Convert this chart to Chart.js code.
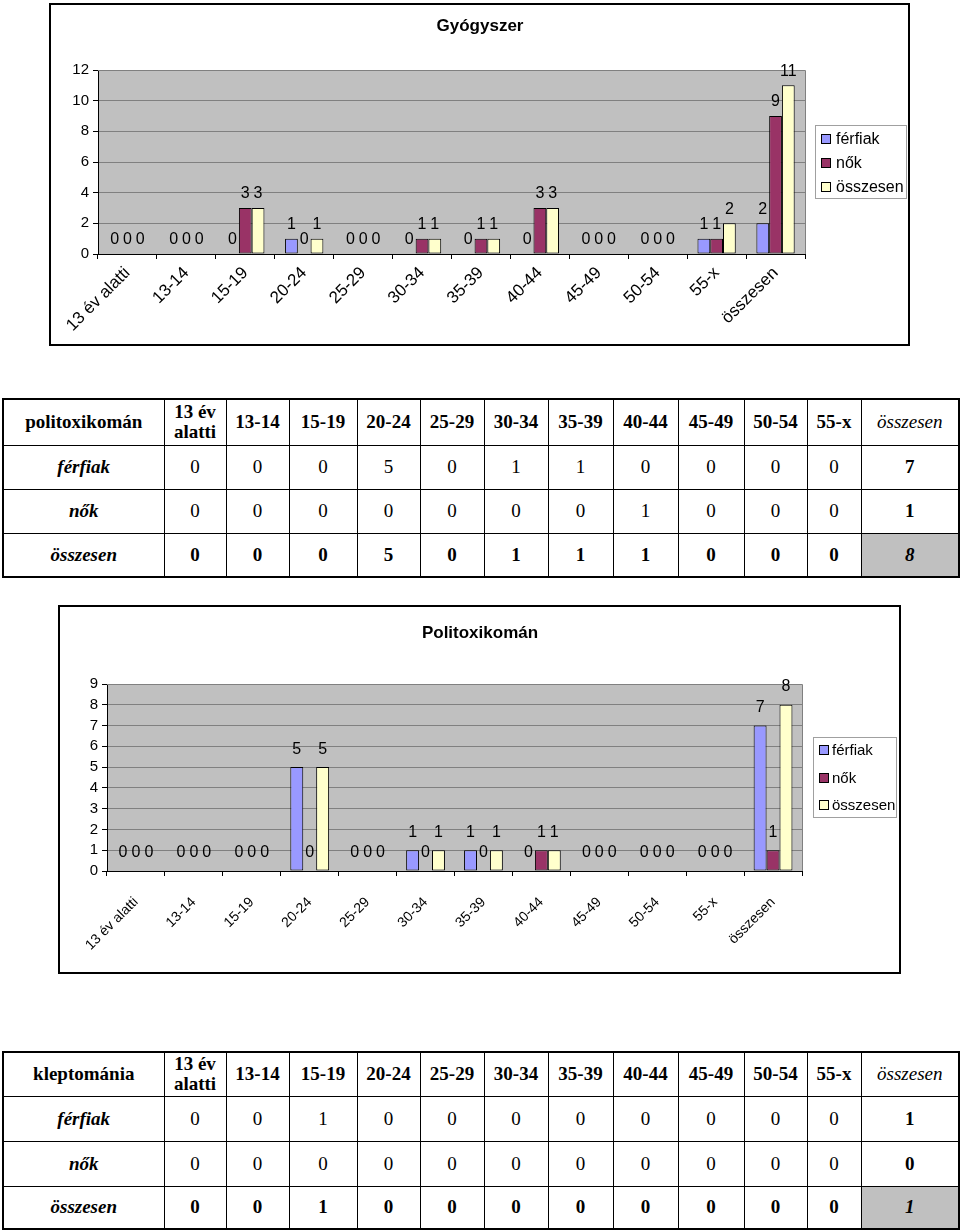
<!DOCTYPE html>
<html lang="hu">
<head>
<meta charset="utf-8">
<title>Gyógyszer / Politoxikomán / kleptománia</title>
<script src="https://cdn.jsdelivr.net/npm/chart.js@4.4.1/dist/chart.umd.min.js"></script>
<style>
  html, body { margin: 0; padding: 0; background: #fff; }
  body { position: relative; width: 960px; height: 1231px; overflow: hidden; }
  .frame { position: absolute; box-sizing: border-box; border: 2px solid #000; background: #fff; }
  .frame canvas { display: block; }
  table.data {
    position: absolute; border-collapse: collapse; table-layout: fixed;
    font-family: "Liberation Serif", "Times New Roman", serif; font-size: 19px; color: #000;
    border: 2px solid #000;
  }
  table.data td { border: 1px solid #000; text-align: center; vertical-align: middle; padding: 0; }
  table.data tr.head td { font-weight: bold; line-height: 20px; }
  table.data tr.head td.tot { font-weight: normal; font-style: italic; }
  table.data td.rl { font-weight: bold; font-style: italic; }
  table.data tr.sum td { font-weight: bold; }
  table.data td.tcol { font-weight: bold; }
  table.data td.grand { background: #c0c0c0; font-style: italic; font-weight: bold; }
</style>
</head>
<body>
<div class="frame" id="f1" style="left:49px;top:3px;width:861px;height:343px;"><canvas id="c1" width="857" height="339"></canvas></div>
<table class="data" id="t1" style="left:2px;top:398px;width:956px;"></table>
<div class="frame" id="f2" style="left:58px;top:605px;width:843px;height:369px;"><canvas id="c2" width="839" height="365"></canvas></div>
<table class="data" id="t2" style="left:2px;top:1051px;width:956px;"></table>
<script>
// ---------- data ----------
const categories = ['13 év alatti','13-14','15-19','20-24','25-29','30-34','35-39','40-44','45-49','50-54','55-x','összesen'];
const tableHeaders = ['13 év<br>alatti','13-14','15-19','20-24','25-29','30-34','35-39','40-44','45-49','50-54','55-x','összesen'];
const seriesNames = ['férfiak','nők','összesen'];
const seriesColors = ['#9999FF','#993366','#FFFFCC'];

const gyogyszerFerfiak   = [0,0,0,1,0,0,0,0,0,0,1,2];
const gyogyszerNok       = [0,0,3,0,0,1,1,3,0,0,1,9];
const gyogyszerOsszesen  = [0,0,3,1,0,1,1,3,0,0,2,11];

const politoxFerfiak     = [0,0,0,5,0,1,1,0,0,0,0,7];
const politoxNok         = [0,0,0,0,0,0,0,1,0,0,0,1];
const politoxOsszesen    = [0,0,0,5,0,1,1,1,0,0,0,8];

const kleptoFerfiak      = [0,0,1,0,0,0,0,0,0,0,0,1];
const kleptoNok          = [0,0,0,0,0,0,0,0,0,0,0,0];
const kleptoOsszesen     = [0,0,1,0,0,0,0,0,0,0,0,1];

const yTicks1 = {max: 12, step: 2};
const yTicks2 = {max: 9, step: 1};

// ---------- tables ----------
const colWidths = [161,62,63,68,63,64,64,65,65,66,63,54,98];
function buildTable(id, title, rows, heights) {
  const t = document.getElementById(id);
  let h = '<colgroup>' + colWidths.map(w => '<col style="width:' + w + 'px">').join('') + '</colgroup>';
  h += '<tr class="head" style="height:' + heights[0] + 'px"><td>' + title + '</td>';
  tableHeaders.forEach((c, i) => { h += '<td' + (i === tableHeaders.length - 1 ? ' class="tot"' : '') + '>' + c + '</td>'; });
  h += '</tr>';
  rows.forEach((r, ri) => {
    h += '<tr' + (ri === 2 ? ' class="sum"' : '') + ' style="height:' + heights[ri + 1] + 'px"><td class="rl">' + seriesNames[ri] + '</td>';
    r.forEach((v, i) => {
      const last = i === r.length - 1;
      let cls = '';
      if (last) cls = ri === 2 ? 'grand' : 'tcol';
      h += '<td' + (cls ? ' class="' + cls + '"' : '') + '>' + v + '</td>';
    });
    h += '</tr>';
  });
  t.innerHTML = h;
}
buildTable('t1', 'politoxikomán', [politoxFerfiak, politoxNok, politoxOsszesen], [46,44,44,44]);
buildTable('t2', 'kleptománia', [kleptoFerfiak, kleptoNok, kleptoOsszesen], [44,45,45,43]);

// ---------- charts ----------
Chart.defaults.font.family = '"Liberation Sans", Arial, sans-serif';
Chart.defaults.color = '#000';

const excelLook = {
  id: 'excelLook',
  beforeDraw(chart, args, o) {
    const {ctx, chartArea: a} = chart;
    ctx.save();
    ctx.fillStyle = '#C0C0C0';
    ctx.fillRect(a.left, a.top, a.right - a.left, a.bottom - a.top);
    ctx.restore();
  },
  beforeDatasetsDraw(chart) {
    const {ctx, chartArea: a} = chart;
    ctx.save();
    ctx.strokeStyle = '#808080';
    ctx.lineWidth = 1;
    ctx.beginPath();
    ctx.moveTo(a.left, Math.round(a.top) + 0.5);
    ctx.lineTo(Math.round(a.right) + 0.5, Math.round(a.top) + 0.5);
    ctx.lineTo(Math.round(a.right) + 0.5, a.bottom);
    ctx.stroke();
    ctx.restore();
  },
  afterDatasetsDraw(chart, args, o) {
    const {ctx} = chart;
    ctx.save();
    ctx.font = o.labelFont;
    ctx.fillStyle = '#000';
    ctx.textAlign = 'center';
    ctx.textBaseline = 'middle';
    chart.data.datasets.forEach((ds, di) => {
      const meta = chart.getDatasetMeta(di);
      meta.data.forEach((el, i) => {
        ctx.fillText(String(ds.data[i]), el.x, el.y - o.labelOffset);
      });
    });
    ctx.restore();
  },
  afterDraw(chart, args, o) {
    const {ctx} = chart;
    ctx.save();
    // title
    ctx.font = o.titleFont;
    ctx.fillStyle = '#000';
    ctx.textAlign = 'center';
    ctx.textBaseline = 'middle';
    ctx.fillText(o.title, o.titleX, o.titleY);
    // legend
    const L = o.legend;
    ctx.fillStyle = '#fff';
    ctx.fillRect(L.x, L.y, L.w, L.h);
    ctx.strokeStyle = '#A0A0A0';
    ctx.lineWidth = 1;
    ctx.strokeRect(L.x + 0.5, L.y + 0.5, L.w - 1, L.h - 1);
    ctx.font = L.font;
    ctx.textAlign = 'left';
    ctx.textBaseline = 'middle';
    chart.data.datasets.forEach((ds, i) => {
      const y = L.rows[i];
      ctx.fillStyle = ds.backgroundColor;
      ctx.fillRect(L.sx + 0.5, y - 4.5, 9, 9);
      ctx.strokeStyle = '#000';
      ctx.strokeRect(L.sx + 0.5, y - 4.5, 9, 9);
      ctx.fillStyle = '#000';
      ctx.fillText(ds.label, L.tx, y + 1);
    });
    ctx.restore();
  }
};

function makeChart(canvasId, series, yCfg, cfg) {
  return new Chart(document.getElementById(canvasId), {
    type: 'bar',
    data: {
      labels: categories,
      datasets: series.map((d, i) => ({
        label: seriesNames[i],
        data: d,
        backgroundColor: seriesColors[i],
        borderColor: '#000',
        borderWidth: 1,
        borderSkipped: false,
        barPercentage: 1,
        categoryPercentage: cfg.catPct
      }))
    },
    options: {
      responsive: false,
      animation: false,
      devicePixelRatio: 1,
      layout: { padding: cfg.padding },
      plugins: {
        legend: { display: false },
        title: { display: false },
        tooltip: { enabled: false },
        excelLook: cfg.look
      },
      scales: {
        x: {
          offset: true,
          grid: { offset: true, drawOnChartArea: false, drawTicks: true, tickLength: 5, color: '#000', tickColor: '#000' },
          border: { display: true, color: '#000', width: 1 },
          ticks: { autoSkip: false, minRotation: 45, maxRotation: 45, padding: cfg.xPad, font: { size: cfg.xFont } },
          afterFit(s) { s.height = 80; }
        },
        y: {
          min: 0, max: yCfg.max,
          grid: { color: '#808080', lineWidth: 1, tickLength: 5, tickColor: '#000' },
          border: { display: true, color: '#000', width: 1 },
          ticks: { stepSize: yCfg.step, autoSkip: false, padding: 4, font: { size: cfg.yFont } },
          afterFit(s) { s.width = 40; }
        }
      }
    },
    plugins: [excelLook]
  });
}

makeChart('c1', [gyogyszerFerfiak, gyogyszerNok, gyogyszerOsszesen], yTicks1, {
  catPct: 0.65,
  padding: { left: 7, top: 65, right: 103, bottom: 10 },
  xPad: 4, xFont: 17, yFont: 15,
  look: {
    labelFont: '16px "Liberation Sans", Arial, sans-serif', labelOffset: 14,
    title: 'Gyógyszer', titleFont: 'bold 17px "Liberation Sans", Arial, sans-serif', titleX: 429, titleY: 21,
    legend: { x: 764, y: 120, w: 92, h: 74, font: '16px "Liberation Sans", Arial, sans-serif', sx: 770, tx: 785, rows: [134, 158, 182] }
  }
});

makeChart('c2', [politoxFerfiak, politoxNok, politoxOsszesen], yTicks2, {
  catPct: 0.67,
  padding: { left: 7, top: 77, right: 97, bottom: 21 },
  xPad: 18, xFont: 14, yFont: 15,
  look: {
    labelFont: '16px "Liberation Sans", Arial, sans-serif', labelOffset: 18,
    title: 'Politoxikomán', titleFont: 'bold 17px "Liberation Sans", Arial, sans-serif', titleX: 420, titleY: 26,
    legend: { x: 753, y: 130, w: 84, h: 81, font: '15px "Liberation Sans", Arial, sans-serif', sx: 759, tx: 772, rows: [143, 171, 198] }
  }
});
</script>
</body>
</html>
